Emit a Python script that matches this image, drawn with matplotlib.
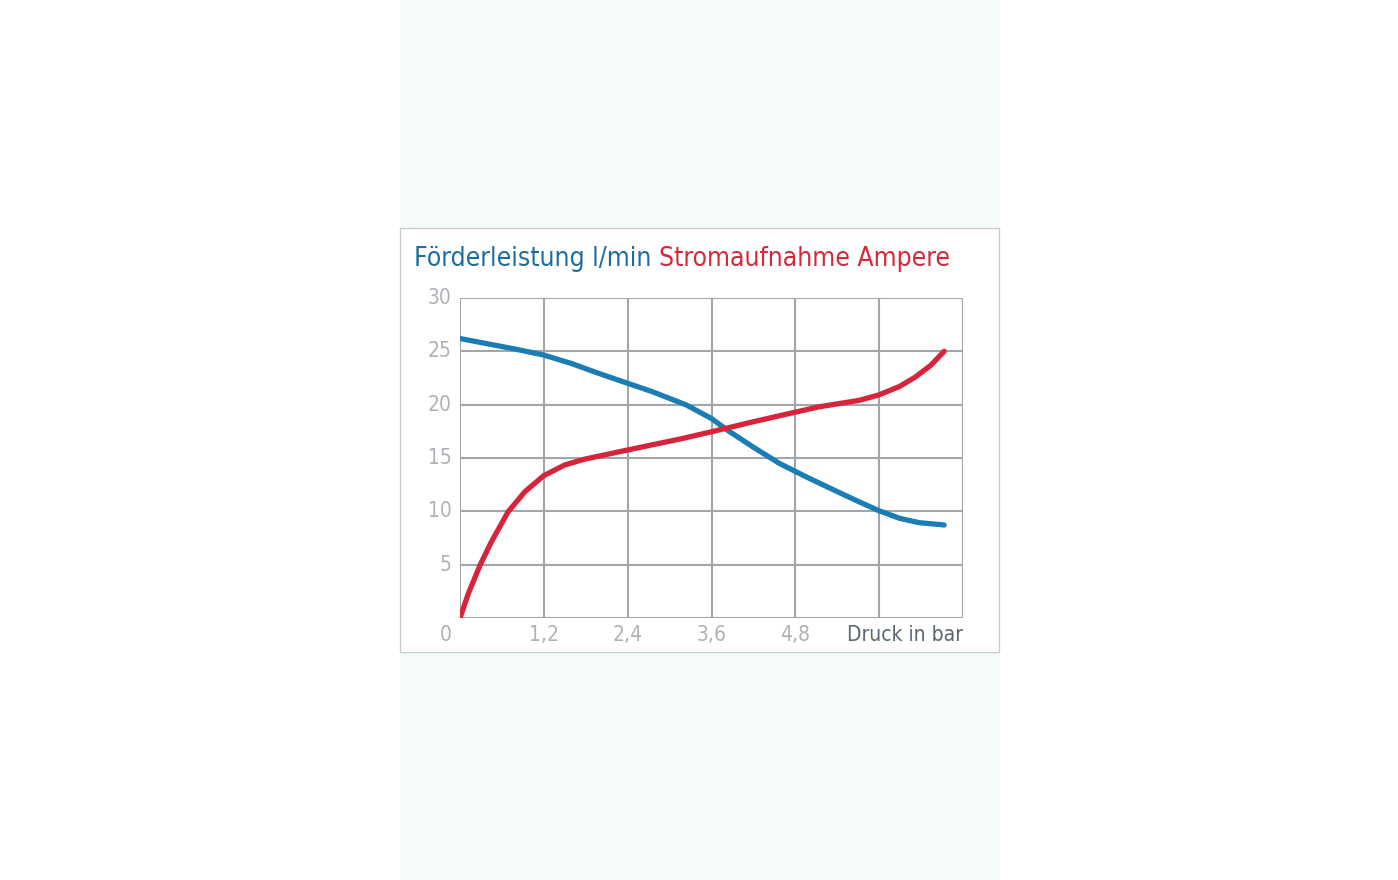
import numpy as np
import matplotlib
matplotlib.use('Agg')
import matplotlib.pyplot as plt
from matplotlib.patches import Rectangle

# DATEN
druck_blau = [0.0, 0.4, 0.8, 1.2, 1.6, 2.0, 2.29, 2.76, 3.24, 3.6, 3.83, 4.19, 4.57,
              4.95, 5.4, 5.71, 6.0, 6.29, 6.57, 6.93]
foerder = [26.2, 25.7, 25.2, 24.65, 23.85, 22.9, 22.25, 21.2, 19.97, 18.7, 17.6, 16.05, 14.5,
           13.25, 11.85, 10.9, 10.05, 9.35, 8.94, 8.72]

druck_rot = [0.0, 0.12, 0.29, 0.45, 0.69, 0.93, 1.2, 1.5, 1.79, 2.29, 2.8, 3.2, 3.6,
             4.2, 4.8, 5.14, 5.71, 5.99, 6.29, 6.52, 6.74, 6.93]
strom = [0.0, 2.3, 5.0, 7.15, 9.97, 11.85, 13.35, 14.35, 14.9, 15.6, 16.3, 16.85, 17.46,
         18.4, 19.3, 19.8, 20.4, 20.9, 21.7, 22.6, 23.7, 25.0]

x_ticks = [1.2, 2.4, 3.6, 4.8]
x_labels = ['1,2', '2,4', '3,6', '4,8']
y_ticks = [5, 10, 15, 20, 25, 30]

FONT = ['DejaVu Sans']
W, H = 1398, 880

fig = plt.figure(figsize=(W / 100, H / 100), dpi=100)
fig.patch.set_facecolor('white')

# heller Streifen und weisses Feld
fig.patches.append(Rectangle((400 / W, 0), 600 / W, 1, transform=fig.transFigure,
                             facecolor='#f5fbfb', edgecolor='none', zorder=-2))
fig.patches.append(Rectangle((400 / W, 1 - 652 / H), 599 / W, 424 / H, transform=fig.transFigure,
                             facecolor='white', edgecolor='#c9cdd0', linewidth=1.0, zorder=-1))

ax = fig.add_axes([460 / W, 1 - 618 / H, 503 / W, 320 / H])
ax.set_zorder(2)
ax.set_facecolor('white')
ax.set_xlim(0, 7.2)
ax.set_ylim(0, 30)

# Gitter
grid_c = '#a2a6aa'
for gx in [0, 1.2, 2.4, 3.6, 4.8, 6.0, 7.2]:
    ax.axvline(gx, color=grid_c, lw=1.5, zorder=1)
for gy in [0, 5, 10, 15, 20, 25, 30]:
    ax.axhline(gy, color=grid_c, lw=1.5, zorder=1)
for s in ax.spines.values():
    s.set_visible(False)

ax.plot(druck_blau, foerder, color='#1a7db3', lw=3.8, solid_capstyle='round',
        solid_joinstyle='round', zorder=3)
ax.plot(druck_rot, strom, color='#d8243a', lw=3.8, solid_capstyle='round',
        solid_joinstyle='round', zorder=4)

# Achsenbeschriftung
ax.set_xticks([])
ax.set_yticks([])
tick_c = '#aeb2b6'
for yv in y_ticks:
    ax.text(-0.12, yv, str(yv), ha='right', va='center', fontsize=15, color=tick_c,
            family=FONT, fontstretch='condensed')
ax.text(-0.2, -1.6, '0', ha='center', va='center', fontsize=15, color=tick_c,
        family=FONT, fontstretch='condensed')
for xv, lab in zip(x_ticks, x_labels):
    ax.text(xv, -1.6, lab, ha='center', va='center', fontsize=15, color=tick_c,
            family=FONT, fontstretch='condensed')
ax.text(7.2, -1.6, 'Druck in bar', ha='right', va='center', fontsize=15, color='#5c6670',
        family=FONT, fontstretch='condensed')

# Titel
t1 = fig.text(414 / W, 1 - 266 / H, 'Förderleistung l/min ', fontsize=19, color='#1d6d9d',
              family=FONT, fontstretch='condensed', ha='left', va='baseline')
fig.canvas.draw()
bb = t1.get_window_extent()
fig.text(bb.x1 / W, 1 - 266 / H, 'Stromaufnahme Ampere', fontsize=19, color='#d32a3b',
         family=FONT, fontstretch='condensed', ha='left', va='baseline')

fig.savefig('out.png', dpi=100)
